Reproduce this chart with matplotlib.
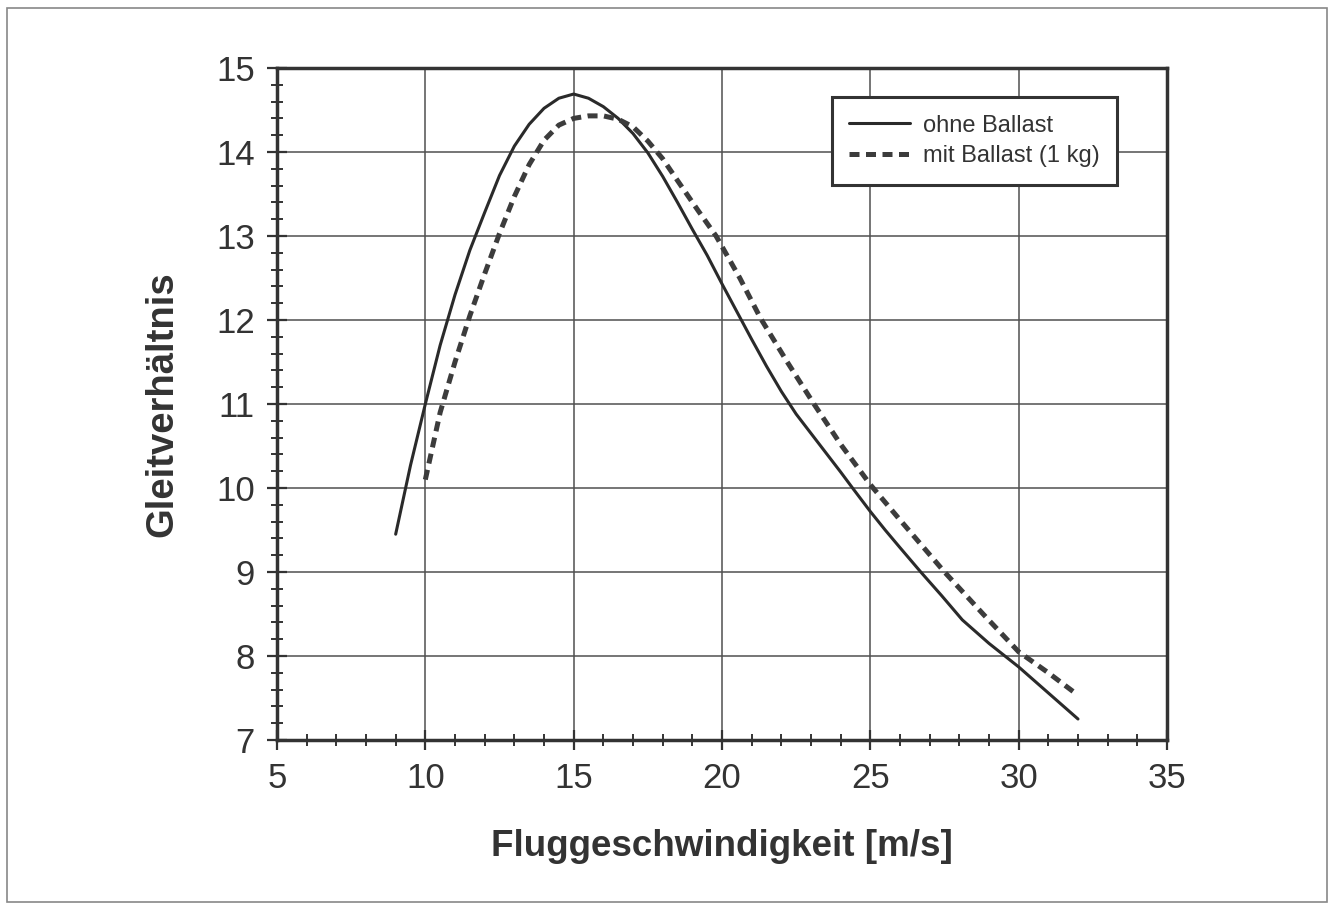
import matplotlib
matplotlib.use("Agg")
import matplotlib.pyplot as plt
from matplotlib.ticker import MultipleLocator
from matplotlib.patches import Rectangle

plt.rcParams['font.family'] = ['Liberation Sans', 'DejaVu Sans']

# Data
speed_ohne = [9.0, 9.5, 10.0, 10.5, 11.0, 11.5, 12.0, 12.5, 13.0, 13.5, 14.0, 14.5, 15.0, 15.5, 16.0, 16.5,
              17.0, 17.5, 18.0, 18.5, 19.0, 19.5, 20.0, 20.5, 21.0, 21.5, 22.0, 22.5, 23.0, 23.5, 24.0,
              24.4, 25.0, 25.5, 26.0, 26.7, 27.4, 28.1, 29.0, 30.0, 31.0, 32.0]
glide_ohne = [9.45, 10.27, 11.0, 11.7, 12.3, 12.83, 13.28, 13.72, 14.07, 14.33, 14.52, 14.64, 14.69, 14.64,
              14.54, 14.40, 14.22, 13.99, 13.71, 13.40, 13.08, 12.77, 12.43, 12.10, 11.77, 11.45, 11.15,
              10.88, 10.65, 10.42, 10.19, 10.0, 9.72, 9.5, 9.29, 9.0, 8.72, 8.43, 8.15, 7.87, 7.56, 7.25]
speed_mit = [10.0, 10.5, 11.0, 11.5, 12.0, 12.5, 13.0, 13.5, 14.0, 14.5, 15.0, 15.5, 16.0, 16.5, 17.0,
             17.5, 18.0, 18.5, 19.2, 19.8, 20.6, 21.3, 22.2, 23.1, 24.0, 25.0, 26.0, 27.5, 28.8, 30.0, 31.0, 31.9]
glide_mit = [10.1, 10.9, 11.5, 12.05, 12.55, 13.03, 13.47, 13.85, 14.14, 14.32, 14.4, 14.43, 14.43, 14.39,
             14.3, 14.13, 13.92, 13.66, 13.3, 13.0, 12.5, 12.02, 11.5, 11.0, 10.52, 10.04, 9.62, 9.0,
             8.5, 8.05, 7.8, 7.56]

label_ohne = "ohne Ballast"
label_mit = "mit Ballast (1 kg)"
xlabel = "Fluggeschwindigkeit [m/s]"
ylabel = "Gleitverhältnis"

fig = plt.figure(figsize=(13.3, 9.05), dpi=100)
ax = fig.add_axes([277/1330, 1-740/905, (1167-277)/1330, (740-68)/905])

ax.plot(speed_ohne, glide_ohne, color='#2a2a2a', lw=2.2, label=label_ohne,
        solid_joinstyle='round', solid_capstyle='round')
ax.plot(speed_mit, glide_mit, color='#3c3c3c', lw=3.6, ls=(0, (2.0, 1.3)), label=label_mit,
        dash_capstyle='butt', dash_joinstyle='round')

ax.set_xlim(5, 35)
ax.set_ylim(7, 15)
ax.xaxis.set_major_locator(MultipleLocator(5))
ax.xaxis.set_minor_locator(MultipleLocator(1))
ax.yaxis.set_major_locator(MultipleLocator(1))
ax.yaxis.set_minor_locator(MultipleLocator(0.2))

ax.grid(True, which='major', color='#505050', lw=1.1)
ax.set_axisbelow(True)
for s in ax.spines.values():
    s.set_linewidth(2.5)
    s.set_color('#333333')

ax.tick_params(which='major', direction='inout', length=14, width=1.6, color='#333333',
               labelsize=25, labelcolor='#333333', pad=9)
ax.tick_params(which='minor', direction='inout', length=8, width=1.4, color='#333333')

ax.set_xlabel(xlabel, fontsize=26.5, fontweight='bold', color='#333333', labelpad=24)
ax.set_ylabel(ylabel, fontsize=27.5, fontweight='bold', color='#333333', labelpad=26)

leg = ax.legend(loc='upper right', bbox_to_anchor=((1117-277)/890, 1-(97-68)/672),
                fontsize=17, frameon=True, fancybox=False, framealpha=1, edgecolor='#333333',
                handlelength=2.55, handletextpad=0.55, borderpad=0.75, labelspacing=0.35,
                borderaxespad=0)
leg.get_frame().set_linewidth(2.2)
for t in leg.get_texts():
    t.set_color('#333333')

fig.patches.append(Rectangle((7/1330, 1-902/905), (1327-7)/1330, (902-8)/905, transform=fig.transFigure,
                             fill=False, edgecolor='#888888', lw=1.2))

fig.savefig("out.png", dpi=100, facecolor='white')
